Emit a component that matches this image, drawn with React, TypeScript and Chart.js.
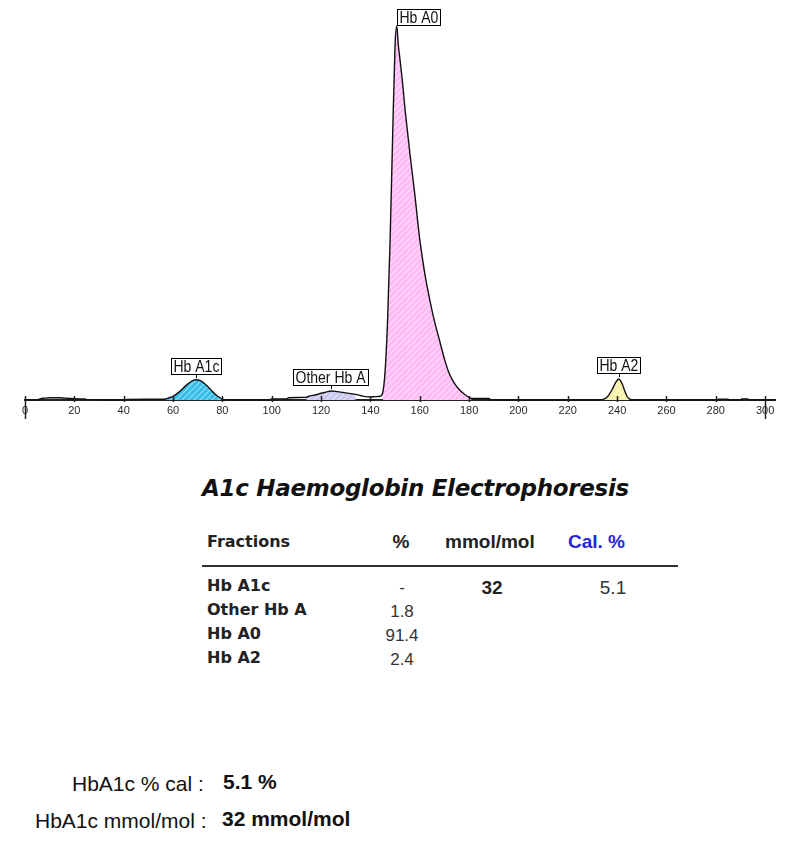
import React, { useEffect, useRef } from 'react';
import { Chart, registerables } from 'chart.js';
Chart.register(...registerables);

// ---------- data ----------
const X_TICKS = [0, 20, 40, 60, 80, 100, 120, 140, 160, 180, 200, 220, 240, 260, 280, 300];

// electrophoresis trace: [position, relative absorbance]
const TRACE: [number, number][] = [
  [0, 0], [5, 0], [6, 0.3], [8, 0.5], [10, 0.6], [14, 0.6], [16, 0.5], [18, 0.4], [22, 0.3], [24, 0.3], [25, 0.1], [30, 0.1], [31, 0],
  [34, 0], [40, 0], [41, 0.15], [56, 0.2], [57, 0.3], [58, 0.5], [60, 1.0], [62, 1.9], [64, 3.1], [66, 4.3],
  [68, 5.2], [69.5, 5.4], [71, 5.2], [73, 4.3], [75, 3.0], [77, 1.6], [79, 0.6], [80, 0.2], [82, 0],
  [99, 0], [100, 0.3], [106, 0.3], [107, 0.6], [114, 0.7], [115, 1.0], [118, 1.4], [120, 1.8], [122, 2.1],
  [124, 2.4], [126, 2.3], [128, 2.1], [130, 1.9], [132, 1.7], [134, 1.5], [136, 1.2], [138, 0.9], [140, 0.8],
  [142, 0.9], [144, 1.0], [145, 2], [146, 8], [147, 22], [148, 43], [149, 70], [150, 95], [150.7, 100],
  [151.3, 95], [152, 91], [153, 85], [154, 78], [155, 72], [156, 66], [158, 55], [160, 43], [162, 34],
  [164, 27], [166, 21], [168, 16], [170, 11], [172, 7], [174, 4.5], [176, 2.8], [178, 1.6], [180, 0.7],
  [181, 0.4], [188, 0.4], [189, 0], [232, 0], [234, 0.1], [236, 0.8], [238, 2.8], [239.5, 4.8], [240.7, 5.6],
  [242, 4.4], [243, 2.6], [244, 1.0], [245, 0.3], [246, 0], [280.5, 0], [281, 0.2], [285, 0.2], [285.5, 0],
  [290, 0], [290.5, 0.3], [293, 0.3], [293.5, 0], [304, 0],
];

const FRACTIONS = ['Hb A1c', 'Other Hb A', 'Hb A0', 'Hb A2'];
const FRACTION_RANGES: [number, number][] = [[57, 81], [114, 134], [145, 181], [233, 246]];
const PEAK_X = [69.5, 124, 150.7, 240.7];
const PEAK_Y = [5.4, 2.4, 100, 5.6];

const PERCENT = ['-', '1.8', '91.4', '2.4'];
const MMOL = ['32', '', '', ''];
const CAL = ['5.1', '', '', ''];

const SUMMARY_LABELS = ['HbA1c % cal :', 'HbA1c mmol/mol :'];
const SUMMARY_VALUES = ['5.1 %', '32 mmol/mol'];

// ---------- styles ----------
const FILL_COLORS = [
  ['#35bde9', '#86daf4'],
  ['#c9c6ef', '#e2e0f7'],
  ['#ffb9f5', '#ffdcfa'],
  ['#f6f0a2', '#fbf8d2'],
];

const VERDANA = '"DejaVu Sans", Verdana, sans-serif';
const ARIAL = '"Liberation Sans", Arial, sans-serif';

function makePattern(bg: string, stripe: string): CanvasPattern | string {
  const c = document.createElement('canvas');
  c.width = 6;
  c.height = 6;
  const g = c.getContext('2d');
  if (!g) return bg;
  g.fillStyle = bg;
  g.fillRect(0, 0, 6, 6);
  g.strokeStyle = stripe;
  g.lineWidth = 1.3;
  g.beginPath();
  g.moveTo(-1, 7); g.lineTo(7, -1);
  g.moveTo(-4, 4); g.lineTo(4, -4);
  g.moveTo(2, 10); g.lineTo(10, 2);
  g.stroke();
  return g.createPattern(c, 'repeat') || bg;
}

const markerPlugin = {
  id: 'markers',
  afterDraw(chart: any) {
    const ctx = chart.ctx as CanvasRenderingContext2D;
    const xs = chart.scales.x;
    const ys = chart.scales.y;
    const bottom = chart.chartArea.bottom;
    ctx.save();
    ctx.strokeStyle = '#222';
    ctx.lineWidth = 1.5;
    X_TICKS.forEach((v, i) => {
      const px = Math.round(xs.getPixelForValue(v)) + 0.5;
      const long = i === 0 || i === X_TICKS.length - 1;
      ctx.beginPath();
      ctx.moveTo(px, bottom - 4);
      ctx.lineTo(px, long ? bottom + 19 : bottom + 2);
      ctx.stroke();
    });
    // fraction labels
    ctx.font = '14px "Liberation Sans", Arial, sans-serif';
    ctx.textBaseline = 'alphabetic';
    FRACTIONS.forEach((name, i) => {
      const px = xs.getPixelForValue(PEAK_X[i]);
      const py = ys.getPixelForValue(PEAK_Y[i]);
      const w = Math.ceil(ctx.measureText(name).width) + 4;
      const h = 16;
      let bx: number, by: number;
      if (i === 2) {
        bx = Math.round(px);
        by = Math.round(py - 1 - h);
      } else {
        bx = Math.round(px - w / 2);
        by = Math.round(py - 6 - h);
        ctx.strokeStyle = '#000';
        ctx.lineWidth = 1;
        ctx.beginPath();
        ctx.moveTo(Math.round(px) + 0.5, by + h + 1);
        ctx.lineTo(Math.round(px) + 0.5, by + h + 4);
        ctx.stroke();
      }
      ctx.fillStyle = '#fff';
      ctx.fillRect(bx, by, w, h);
      ctx.strokeStyle = '#000';
      ctx.lineWidth = 1;
      ctx.strokeRect(bx + 0.5, by + 0.5, w, h);
      ctx.fillStyle = '#111';
      ctx.textAlign = 'left';
      ctx.save();
      ctx.translate(bx + 2.5, by + h - 2);
      ctx.scale(1, 1.15);
      ctx.fillText(name, 0, 0);
      ctx.restore();
    });
    ctx.restore();
  },
};

function Txt(props: {
  x: number; base: number; size: number; family: string; bold?: boolean; italic?: boolean;
  color?: string; center?: boolean; spacing?: number; children: React.ReactNode;
}) {
  const { x, base, size, family, bold, italic, color, center, spacing, children } = props;
  const style: React.CSSProperties = {
    position: 'absolute',
    top: base - 0.846 * size,
    fontSize: size,
    lineHeight: `${size}px`,
    fontFamily: family,
    fontWeight: bold ? 'bold' : 'normal',
    fontStyle: italic ? 'italic' : 'normal',
    color: color || '#1a1a1a',
    whiteSpace: 'nowrap',
    letterSpacing: spacing ? `${spacing}px` : undefined,
  };
  if (center) {
    style.left = x - 100;
    style.width = 200;
    style.textAlign = 'center';
  } else {
    style.left = x;
  }
  return <div style={style}>{children}</div>;
}

export default function App() {
  const ref = useRef<HTMLCanvasElement | null>(null);

  useEffect(() => {
    if (!ref.current) return;
    const tracePts = TRACE.map(([x, y]) => ({ x, y }));
    const fillSets = FRACTION_RANGES.map(([a, b], i) => ({
      label: FRACTIONS[i],
      data: TRACE.filter(([x]) => x >= a && x <= b).map(([x, y]) => ({ x, y })),
      borderWidth: 0,
      borderColor: 'rgba(0,0,0,0)',
      backgroundColor: makePattern(FILL_COLORS[i][0], FILL_COLORS[i][1]),
      fill: 'origin',
      pointRadius: 0,
      cubicInterpolationMode: 'monotone' as const,
      order: 2,
    }));
    const chart = new Chart(ref.current, {
      type: 'line',
      data: {
        datasets: [
          {
            label: 'trace',
            data: tracePts,
            borderColor: '#111',
            borderWidth: 1.4,
            pointRadius: 0,
            fill: false,
            cubicInterpolationMode: 'monotone',
            order: 0,
            clip: false as any,
          },
          ...fillSets,
        ] as any,
      },
      options: {
        responsive: false,
        animation: false,
        events: [],
        layout: { padding: { left: 25, right: 31, top: 26, bottom: 0 } },
        plugins: { legend: { display: false }, tooltip: { enabled: false } },
        scales: {
          x: {
            type: 'linear',
            min: 0,
            max: 304,
            afterBuildTicks: (scale: any) => {
              scale.ticks = X_TICKS.map((v) => ({ value: v }));
            },
            afterFit: (scale: any) => {
              scale.height = 30;
            },
            grid: { display: false, drawTicks: false },
            border: { display: true, color: '#222', width: 2 },
            ticks: {
              autoSkip: false,
              maxRotation: 0,
              padding: 4,
              color: '#2a2a2a',
              font: { family: '"Liberation Sans", Arial, sans-serif', size: 11 },
            },
          },
          y: { display: false, min: 0, max: 100 },
        },
      },
      plugins: [markerPlugin],
    });
    return () => chart.destroy();
  }, []);

  const rowBase = [591.7, 616, 640, 664];

  return (
    <div style={{ position: 'absolute', left: 0, top: 0, width: 806, height: 842, background: '#fff', overflow: 'hidden' }}>
      <canvas ref={ref} width={806} height={430} style={{ position: 'absolute', left: 0, top: 0, width: 806, height: 430 }} />

      <Txt x={202} base={496.5} size={23} family={VERDANA} bold italic color="#111" spacing={-0.3}>
        A1c Haemoglobin Electrophoresis
      </Txt>

      <Txt x={207} base={548} size={16} family={VERDANA} bold color="#222">Fractions</Txt>
      <Txt x={401} base={548} size={19} family={ARIAL} bold color="#222" center>%</Txt>
      <Txt x={445} base={548} size={19} family={ARIAL} bold color="#222">mmol/mol</Txt>
      <Txt x={568} base={548} size={19} family={ARIAL} bold color="#2424dd">Cal. %</Txt>
      <div style={{ position: 'absolute', left: 202, top: 565, width: 476, height: 2, background: '#333' }} />

      {FRACTIONS.map((f, i) => (
        <React.Fragment key={f}>
          <Txt x={207} base={rowBase[i]} size={16} family={VERDANA} bold color="#222">{f}</Txt>
          <Txt x={402} base={rowBase[i] + 1.5} size={17} family={ARIAL} color="#333" center>{PERCENT[i]}</Txt>
          {MMOL[i] ? (
            <Txt x={492} base={rowBase[i] + 2.5} size={19} family={ARIAL} bold color="#222" center>{MMOL[i]}</Txt>
          ) : null}
          {CAL[i] ? (
            <Txt x={613} base={rowBase[i] + 2.5} size={19} family={ARIAL} color="#333" center>{CAL[i]}</Txt>
          ) : null}
        </React.Fragment>
      ))}

      <Txt x={72} base={791} size={21} family={ARIAL} color="#111">{SUMMARY_LABELS[0]}</Txt>
      <Txt x={223} base={788.5} size={21} family={ARIAL} bold color="#111">{SUMMARY_VALUES[0]}</Txt>
      <Txt x={35} base={828} size={21} family={ARIAL} color="#111">{SUMMARY_LABELS[1]}</Txt>
      <Txt x={222} base={826} size={21} family={ARIAL} bold color="#111">{SUMMARY_VALUES[1]}</Txt>
    </div>
  );
}
